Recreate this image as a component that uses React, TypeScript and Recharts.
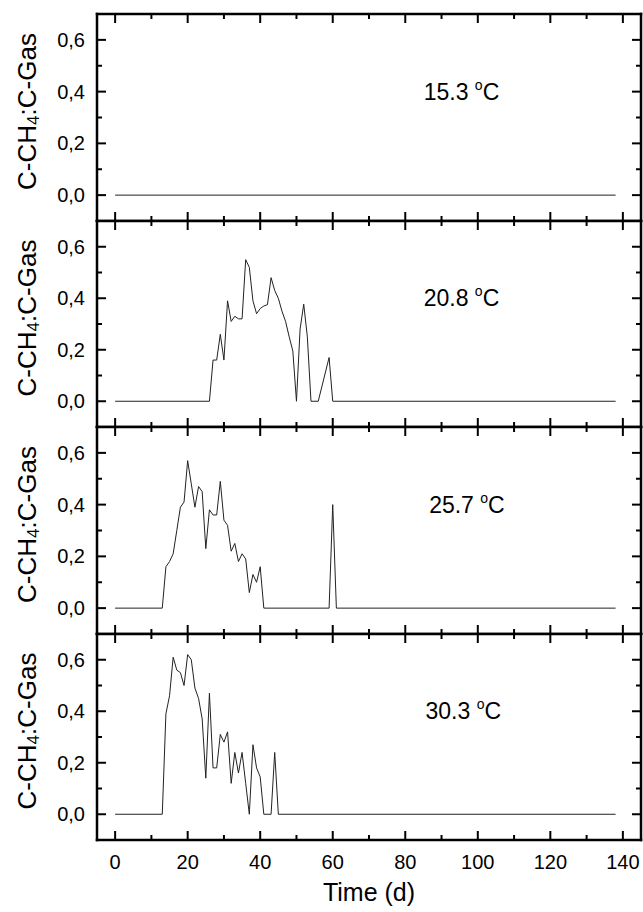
import { LineChart, Line, XAxis, YAxis } from 'recharts'

// days and C-CH4:C-Gas ratio per temperature panel
const days153 = [0, 138]
const vals153 = [0, 0]

const days208 = [0, 26, 27, 28, 29, 30, 31, 32, 33, 34, 35, 36, 37, 38, 39, 40, 41, 42, 43, 44, 45, 46, 47, 48, 49, 50, 51, 52, 53, 54, 56, 59, 60, 138]
const vals208 = [0, 0, 0.16, 0.16, 0.26, 0.16, 0.39, 0.31, 0.33, 0.32, 0.32, 0.55, 0.52, 0.39, 0.34, 0.36, 0.37, 0.375, 0.48, 0.43, 0.4, 0.35, 0.31, 0.25, 0.195, 0, 0.28, 0.377, 0.25, 0, 0, 0.17, 0, 0]

const days257 = [0, 13, 14, 15, 16, 17, 18, 19, 20, 21, 22, 23, 24, 25, 26, 27, 28, 29, 30, 31, 32, 33, 34, 35, 36, 37, 38, 39, 40, 41, 59, 60, 61, 138]
const vals257 = [0, 0, 0.16, 0.18, 0.21, 0.3, 0.39, 0.41, 0.57, 0.48, 0.39, 0.47, 0.45, 0.23, 0.38, 0.36, 0.36, 0.49, 0.34, 0.32, 0.22, 0.25, 0.18, 0.21, 0.19, 0.06, 0.13, 0.1, 0.16, 0, 0, 0.4, 0, 0]

const days303 = [0, 13, 14, 15, 16, 17, 18, 19, 20, 21, 22, 23, 24, 25, 26, 27, 28, 29, 30, 31, 32, 33, 34, 35, 36, 37, 38, 39, 40, 41, 43, 44, 45, 138]
const vals303 = [0, 0, 0.39, 0.46, 0.61, 0.56, 0.55, 0.5, 0.62, 0.6, 0.49, 0.45, 0.37, 0.14, 0.47, 0.18, 0.18, 0.31, 0.28, 0.32, 0.12, 0.24, 0.16, 0.24, 0.12, 0, 0.27, 0.18, 0.145, 0, 0, 0.24, 0, 0]

const temps = ['15.3', '20.8', '25.7', '30.3']
const xTicks = [0, 10, 20, 30, 40, 50, 60, 70, 80, 90, 100, 110, 120, 130, 140]
const yTicks = [0, 0.1, 0.2, 0.3, 0.4, 0.5, 0.6]

const FONT = '"Liberation Sans", Arial, sans-serif'
const frame = { stroke: '#000', strokeWidth: 2.5, strokeLinecap: 'square' as const }

const PLOT_L = 97
const PLOT_W = 544
const X_DOM = [-5, 145]
const Y_DOM = [-0.1, 0.7]
const panels = [
  { days: days153, vals: vals153, top: 14, h: 207, tx: 95.5 },
  { days: days208, vals: vals208, top: 221, h: 206, tx: 95.5 },
  { days: days257, vals: vals257, top: 427, h: 207, tx: 97 },
  { days: days303, vals: vals303, top: 634, h: 206, tx: 96 },
]

// inward tick marks on all four sides, labels only bottom/left
function XTick(props: any) {
  const { x, y, payload, side, labels } = props
  const v = payload.value
  const major = v % 20 === 0
  const dir = side === 'top' ? 1 : -1
  return (
    <g>
      <line x1={x} x2={x} y1={y} y2={y + dir * (major ? 9 : 5)} stroke="#000" strokeWidth={2} />
      {labels && major && <text x={x} y={y + 29} textAnchor="middle" fontSize={20} fill="#000" fontFamily={FONT}>{v}</text>}
    </g>
  )
}

function YTick(props: any) {
  const { x, y, payload, side } = props
  const v = payload.value
  const major = Math.round(v * 10) % 2 === 0
  const dir = side === 'left' ? 1 : -1
  return (
    <g>
      <line x1={x} x2={x + dir * (major ? 9 : 5)} y1={y} y2={y} stroke="#000" strokeWidth={2} />
      {side === 'left' && major && (
        <text x={x - 12} y={y + 7} textAnchor="end" fontSize={20} fill="#000" fontFamily={FONT}>
          {v.toFixed(1).replace('.', ',')}
        </text>
      )}
    </g>
  )
}

function Panel({ days, vals, top, plotH, bottom }: {
  days: number[]
  vals: number[]
  top: number
  plotH: number
  bottom: boolean
}) {
  const data = days.map((t, i) => ({ t, v: vals[i] }))
  const mt = 10
  const bh = bottom ? 72 : 1
  return (
    <div style={{ position: 'absolute', left: 0, top: top - mt }}>
      <LineChart width={643} height={plotH + mt + bh} data={data} margin={{ top: mt - 1, right: 1, bottom: 0, left: 0 }}>
        <XAxis xAxisId="b" dataKey="t" type="number" domain={X_DOM} ticks={xTicks} interval={0} allowDataOverflow
          height={bh} tickSize={0} tickMargin={0} axisLine={frame} tickLine={false}
          tick={<XTick side="bottom" labels={bottom} />} />
        <XAxis xAxisId="t" orientation="top" dataKey="t" type="number" domain={X_DOM} ticks={xTicks} interval={0} allowDataOverflow
          height={1} tickSize={0} tickMargin={0} axisLine={frame} tickLine={false}
          tick={<XTick side="top" />} />
        <YAxis yAxisId="l" dataKey="v" type="number" domain={Y_DOM} ticks={yTicks} interval={0} width={PLOT_L} allowDataOverflow
          tickSize={0} tickMargin={0} axisLine={frame} tickLine={false}
          tick={<YTick side="left" />} />
        <YAxis yAxisId="r" dataKey="v" orientation="right" type="number" domain={Y_DOM} ticks={yTicks} interval={0} width={1} allowDataOverflow
          tickSize={0} tickMargin={0} axisLine={frame} tickLine={false}
          tick={<YTick side="right" />} />
        <Line xAxisId="b" yAxisId="l" type="linear" dataKey="v" stroke="#222" strokeWidth={1}
          dot={false} activeDot={false} isAnimationActive={false} />
      </LineChart>
    </div>
  )
}

export default function App() {
  const last = panels[panels.length - 1]
  return (
    <div style={{ position: 'absolute', left: 0, top: 0, width: 643, height: 912 }}>
      {panels.map((p, i) => (
        <Panel key={i} days={p.days} vals={p.vals} top={p.top} plotH={p.h} bottom={i === panels.length - 1} />
      ))}
      <svg width={643} height={912} style={{ position: 'absolute', left: 0, top: 0, pointerEvents: 'none' }}>
        {panels.map((p, i) => {
          const cx = PLOT_L + ((p.tx - X_DOM[0]) / (X_DOM[1] - X_DOM[0])) * PLOT_W
          const cy = p.top + ((Y_DOM[1] - 0.4) / (Y_DOM[1] - Y_DOM[0])) * p.h
          return (
            <g key={i}>
              <text transform={`translate(27, ${p.top + p.h / 2 - 6}) rotate(-90)`} textAnchor="middle"
                dominantBaseline="central" fontSize={26} fill="#000" fontFamily={FONT}>
                C-CH<tspan dy={6} fontSize={17}>4</tspan><tspan dy={-6}>:C-Gas</tspan>
              </text>
              <text x={cx} y={cy + 8} textAnchor="middle" fontSize={23} fill="#000" fontFamily={FONT}>
                {temps[i]} <tspan dy={-10} fontSize={14}>o</tspan><tspan dy={10}>C</tspan>
              </text>
            </g>
          )
        })}
        <text x={PLOT_L + PLOT_W / 2} y={last.top + last.h + 61} textAnchor="middle" fontSize={25} fill="#000" fontFamily={FONT}>
          Time (d)
        </text>
      </svg>
    </div>
  )
}
